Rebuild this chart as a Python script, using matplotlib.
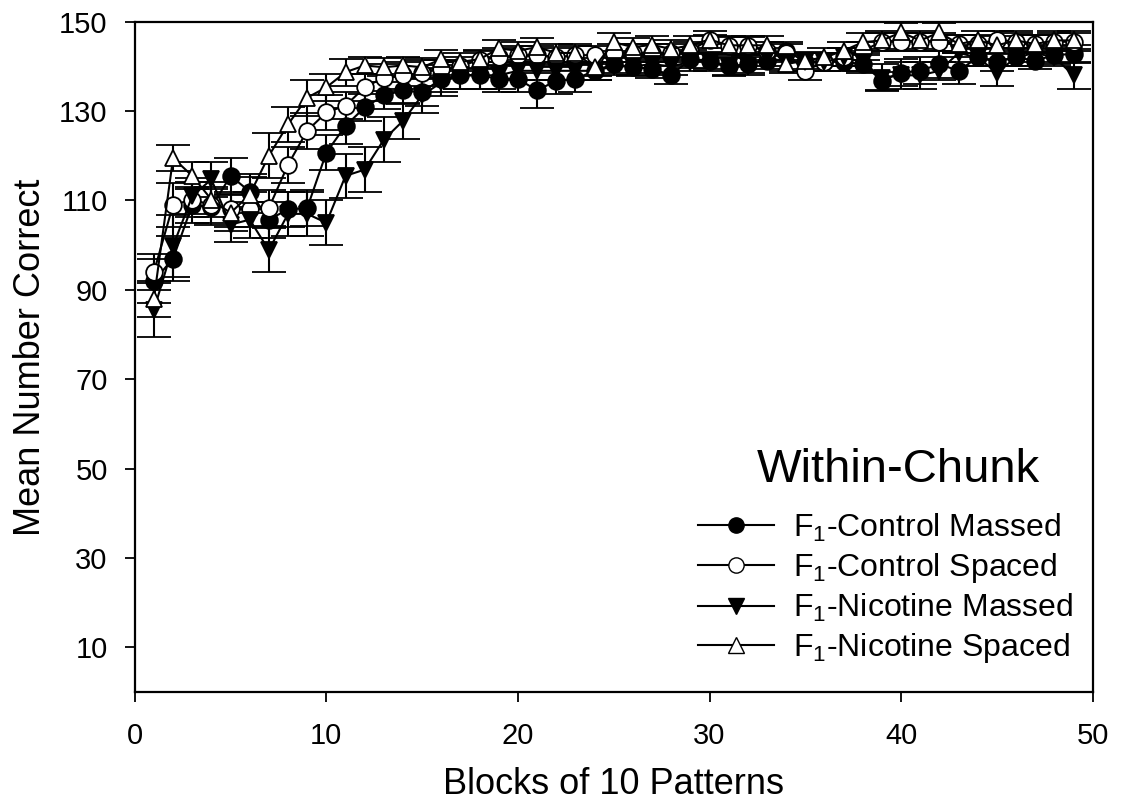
import matplotlib
matplotlib.use("Agg")
import matplotlib.pyplot as plt
from matplotlib.lines import Line2D

plt.rcParams['font.family'] = ['Liberation Sans', 'DejaVu Sans']
plt.rcParams['mathtext.fontset'] = 'custom'
plt.rcParams['mathtext.rm'] = 'Liberation Sans'

blocks = list(range(1, 50))

ctrl_massed = [92, 97, 109, 108.5, 115.5, 112, 105.7, 108, 108.3, 120.7, 126.7, 130.8, 133.5, 134.6, 134.2, 137.2, 138, 138, 137.2, 137.2,
               134.6, 136.8, 137.2, 139, 140.5, 139.8, 139.5, 138, 141.6, 141.3, 140, 140.5, 141.3, 143.5, 141, 141, 141, 140.5, 136.8, 138.6,
               139, 140.5, 139, 142, 141, 142, 141.3, 142.5, 142.8]
ctrl_massed_err = [5, 5, 4, 4, 4, 4, 4, 4, 4, 4, 4, 3, 3, 3, 3, 3, 3, 3, 3, 3,
                   4, 3, 3, 2, 2, 2, 2, 2, 2, 2, 2, 2, 2, 2, 2, 2, 2, 2, 2, 3,
                   3, 3, 3, 2, 2, 2, 2, 2, 2]

ctrl_spaced = [94, 109, 110.2, 109, 108, 108, 108.3, 118, 125.6, 129.7, 131.2, 135.3, 137.5, 138, 138.5, 139.5, 140, 141.5, 142, 142.5,
               142.5, 142, 142.5, 142.5, 143, 143, 143, 143, 143.5, 146, 144.5, 144.5, 143.5, 143, 139, 141, 142, 143.5, 145.5, 145.5,
               145.5, 145.5, 145, 145, 146, 145.5, 145, 145.5, 145.5]
ctrl_spaced_err = [4, 5, 4, 4, 4, 4, 4, 4, 4, 4, 3, 3, 3, 3, 3, 2, 2, 2, 2, 2,
                   2, 2, 2, 2, 2, 2, 2, 2, 2, 1, 2, 2, 2, 2, 2, 2, 2, 2, 2, 2,
                   2, 2, 2, 2, 2, 2, 2, 2, 2]

nic_massed = [85.5, 99.8, 111, 114.7, 104.6, 105.7, 98.9, 107, 107, 105, 115.5, 116.9, 123.6, 127.8, 133.5, 136.4, 138, 138, 138, 139,
              139, 139, 139, 139, 140, 140, 140.5, 140, 141, 141, 139.8, 140, 142, 141, 141, 141, 142, 141, 137.5, 138,
              138, 139, 143, 142, 138.6, 142, 143, 142, 138]
nic_massed_err = [6, 7, 4, 4, 4, 4, 5, 5, 5, 5, 5, 5, 5, 4, 4, 3, 3, 3, 3, 2,
                  2, 2, 2, 2, 2, 2, 2, 2, 2, 2, 2, 2, 2, 2, 2, 2, 2, 2, 3, 3,
                  3, 2, 2, 2, 3, 2, 2, 2, 3]

nic_spaced = [88, 119.5, 115.5, 110.2, 107.2, 111.3, 120, 127, 133, 135.3, 138.7, 140.2, 139.8, 140.2, 139.8, 141.6, 141, 141.6, 144, 143.5,
              144.3, 143, 143, 139.8, 145.4, 144.3, 144.8, 143.9, 144.7, 146, 144.7, 144.7, 144.7, 140.5, 141.3, 142, 143.5, 145.4, 145.8, 147.6,
              145.8, 147.6, 145, 145.8, 144.7, 145.8, 145, 145.8, 145.8]
nic_spaced_err = [4, 3, 3, 4, 4, 4, 5, 4, 4, 3, 3, 2, 2, 2, 2, 2, 2, 2, 2, 2,
                  2, 2, 2, 2, 2, 2, 2, 2, 2, 2, 2, 2, 2, 2, 2, 2, 2, 2, 2, 2,
                  2, 2, 2, 2, 2, 2, 2, 2, 2]

labels = [r"F$_1$-Control Massed", r"F$_1$-Control Spaced",
          r"F$_1$-Nicotine Massed", r"F$_1$-Nicotine Spaced"]
legend_title = "Within-Chunk"

fig = plt.figure(figsize=(11.23, 8.02), dpi=100)
ax = fig.add_axes([0.120, 0.137, 0.853, 0.836])

series = [
    (ctrl_massed, ctrl_massed_err, 'o', 'black', 12),
    (ctrl_spaced, ctrl_spaced_err, 'o', 'white', 12),
    (nic_massed, nic_massed_err, 'v', 'black', 12),
    (nic_spaced, nic_spaced_err, '^', 'white', 12),
]
for (vals, errs, mk, fc, ms), lab in zip(series, labels):
    ax.errorbar(blocks, vals, yerr=errs, fmt='-', marker=mk, color='black',
                mfc=fc, mec='black', ms=ms, mew=1.3, lw=1.5,
                elinewidth=1.5, capsize=12, capthick=1.5, label=lab)

ax.set_xlim(0, 50)
ax.set_ylim(0, 150)
ax.set_xticks([0, 10, 20, 30, 40, 50])
ax.set_yticks([10, 30, 50, 70, 90, 110, 130, 150])
ax.tick_params(axis='both', labelsize=21, direction='out', length=7.5, width=1.3)
ax.tick_params(axis='x', pad=14)
ax.tick_params(axis='y', pad=12)
for s in ax.spines.values():
    s.set_linewidth(1.6)
ax.set_xlabel("Blocks of 10 Patterns", fontsize=26, labelpad=12)
ax.set_ylabel("Mean Number Correct", fontsize=26, labelpad=8)

handles = []
for (vals, errs, mk, fc, ms), lab in zip(series, labels):
    handles.append(Line2D([0], [0], color='black', lw=1.5, marker=mk, mfc=fc,
                          mec='black', ms=11, label=lab))
leg = ax.legend(handles=handles, loc='lower right', bbox_to_anchor=(0.997, 0.016),
                frameon=False, fontsize=23, handlelength=2.4, labelspacing=0.22,
                handletextpad=0.6, borderpad=0)
ax.text(0.7975, 0.331, legend_title, transform=ax.transAxes, ha='center',
        va='center', fontsize=34)

fig.savefig("out.png", dpi=100)
